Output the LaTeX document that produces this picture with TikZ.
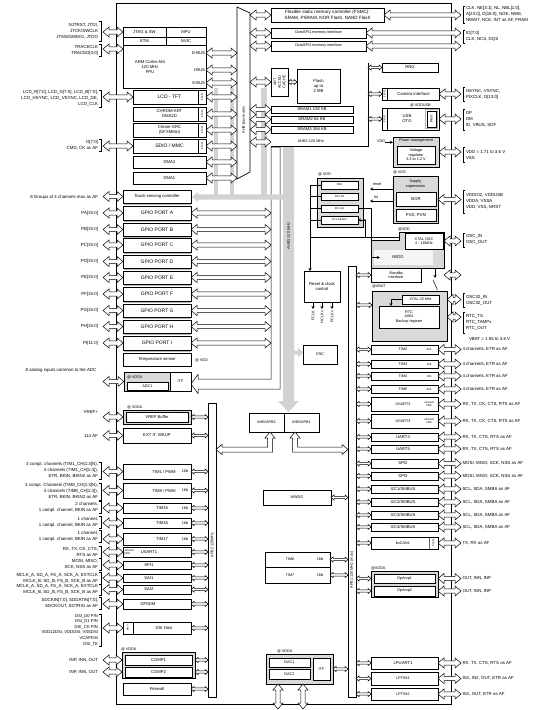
\documentclass[tikz,border=0pt]{standalone}
\usepackage{fontspec}
\setmainfont{Liberation Sans}
\usetikzlibrary{calc,arrows.meta}
\newcommand\fa{\fontsize{4.6}{5.6}\selectfont}
\newcommand\fb{\fontsize{3.8}{4.5}\selectfont}
\newcommand\fc{\fontsize{5}{6}\selectfont}
\newcommand\fd{\fontsize{4.2}{5}\selectfont}
\newcommand\fl{\fontsize{4.4}{6}\selectfont}
\newcommand\ft{\fontsize{2.8}{3.2}\selectfont}
\tikzset{
  blk/.style={draw,fill=white,line width=0.6pt,inner sep=0pt,outer sep=0pt,align=center,font=\fb},
  gblk/.style={blk,fill=gray!30},
  fat/.style={draw,fill=white,line width=0.5pt,line join=miter},
  gfat/.style={fill=gray!35},
  lbl/.style={inner sep=0pt,outer sep=0pt,font=\fa},
  brk/.style={line width=0.5pt},
  tip/.style={line width=0.5pt,-{Stealth[length=3pt,width=3pt]}},
  tiny/.style={lbl,font=\ft,rotate=90},
  shade/.style={gray!55,line width=1.4pt},
}
\newcommand\bx[7][]{\node[blk,minimum width={(#4-#2)*1pt},minimum height={(#5-#3)*1pt},#1] (#6) at ({(#2+#4)/2},{(#3+#5)/2}) {#7};}
\newcommand\fatpath[3]{(\x1,\y1) -- ({\x1+#1},{\y1+#2}) -- ({\x1+#1},{\y1+#3}) -- ({\x2-#1},{\y1+#3}) -- ({\x2-#1},{\y1+#2}) -- (\x2,\y1) -- ({\x2-#1},{\y1-#2}) -- ({\x2-#1},{\y1-#3}) -- ({\x1+#1},{\y1-#3}) -- ({\x1+#1},{\y1-#2}) -- cycle}
\newcommand\BA[3][fat]{\path[#1] let \p1=(#2),\p2=(#3) in \fatpath{6pt}{5pt}{2.2pt};}
\newcommand\SA[3][fat]{\path[#1] let \p1=(#2),\p2=(#3) in \fatpath{3pt}{2.6pt}{1.1pt};}
\newcommand\VA[3]{\path[fat] (#1,#2) -- ({#1+5},{#2+6}) -- ({#1+2.2},{#2+6}) -- ({#1+2.2},{#3-6}) -- ({#1+5},{#3-6}) -- (#1,#3) -- ({#1-5},{#3-6}) -- ({#1-2.2},{#3-6}) -- ({#1-2.2},{#2+6}) -- ({#1-5},{#2+6}) -- cycle;}
\newcommand\ltx[5]{\node[lbl,font=\fl,align=right,anchor=east] (#1) at (98,#2) {#5};\draw[brk] (99.3,#3) -- (101,#3) -- (101,#4) -- (99.3,#4);}
\newcommand\ltxn[3]{\node[lbl,font=\fl,anchor=east] (#1) at (98,#2) {#3};}
\newcommand\rtx[5]{\node[lbl,font=\fl,align=left,anchor=west] (#1) at (466,#2) {#5};\draw[brk] (465.2,#3) -- (463.5,#3) -- (463.5,#4) -- (465.2,#4);}
\newcommand\rtxn[2]{\node[lbl,font=\fl,anchor=west] (#1r) at (#1.east -| RT) {#2};}
\newcommand\rp[7]{\bx{371}{#2}{438}{#3}{#1}{}\node[lbl,font=#4] (#1a) at (403,{(#2+#3)/2}) {#5};\node[lbl,font=\ft,align=center] (#1b) at (429,{(#2+#3)/2}) {#6};\SA{#1.west -| apb1.east}{#1.west}\BA{#1.east}{#1.east -| RX}\rtxn{#1}{#7}}
\newcommand\lp[7]{\bx{123}{#2}{191}{#3}{#1}{}\node[lbl,font=#4] (#1a) at (#7,{(#2+#3)/2}) {#5};\node[lbl,font=\fb] (#1b) at (185,{(#2+#3)/2}) {#6};\BA{#1.west -| LX}{#1.west}\SA{#1.east}{#1.east -| apb2.west}}
\newcommand\gp[5]{\draw[shade] (123.5,{#3+1.2}) -- (190.5,{#3+1.2});\bx[font=\fc]{123}{#2}{191}{#3}{#1}{#4}\ltxn{#1t}{{(#2+#3)/2}}{#5}\BA{#1.west -| LX}{#1.west}\BA{#1.east}{#1.east -| A1L}}
\begin{document}
\begin{tikzpicture}[x=1pt,y=-1pt]
\useasboundingbox (0,0) rectangle (548,710);
\fill[white] (0,0) rectangle (548,710);
\coordinate (LX) at (103,0);
\coordinate (RX) at (461,0);
\coordinate (RT) at (462.5,0);
\coordinate (BML) at (237,0);
\coordinate (BMR) at (250,0);
\coordinate (A1L) at (271,0);
\coordinate (AH2) at (368,0);
\coordinate (XR) at (444,0);
\coordinate (CK) at (310,0);
\draw[line width=0.7pt] (116,3) rectangle (451,704);
% AHB1 band and gray paths
\path[fat] (271,147) -- (280,147) -- (280,389) -- (198,389) -- (198,393.5) -- (191,384) -- (198,374.5) -- (198,379) -- (271,379) -- cycle;
\fill[gray!35] (214,88) rectangle (218,195);
\fill[gray!35] (230,88) rectangle (234,195);
\fill[gray!35] (261,88) rectangle (267,195);
\fill[gray!35] (283,147) -- (294,147) -- (294,401) -- (299,401) -- (288.5,412) -- (278,401) -- (283,401) -- cycle;
\path[gfat] let \p1=(192,197),\p2=(289,197) in \fatpath{6pt}{5pt}{2.6pt};
\fill[gray!35] (294,350.5) -- (298,350.5) -- (298,347.5) -- (303,352.5) -- (298,357.5) -- (298,354.5) -- (294,354.5) -- cycle;
\node[lbl,font=\fb,rotate=90] (ahb1t) at (288.5,236) {AHB1 120 MHz};
% bus matrix
\draw[fill=white,line width=0.7pt] (237,7) -- (250,13) -- (250,172) -- (237,179) -- cycle;
\node[lbl,font=\fb,rotate=90] (bmt) at (243.5,120) {AHB bus-matrix};
% buses
\bx{348}{266}{356}{697}{apb1}{}
\node[lbl,font=\fb,rotate=90] (apb1t) at (352,570) {APB1 120 MHz (max)};
\bx{208}{403}{216}{697}{apb2}{}
\node[lbl,font=\fb,rotate=90] (apb2t) at (212,545) {APB2 120MHz};
% CPU
\bx{123}{27}{206}{88}{cpu}{}
\bx[font=\fd]{123}{27}{166}{37}{jtag}{JTAG \& SW}
\bx[font=\fd]{166}{27}{206}{37}{mpu}{MPU}
\bx[font=\fd]{123}{37}{166}{45}{etm}{ETM}
\bx[font=\fd]{166}{37}{206}{45}{nvic}{NVIC}
\node[lbl,font=\fd,align=center] (armt) at (150,67) {ARM Cortex-M4\\120 MHz\\FPU};
\node[lbl,font=\fd,anchor=east] (dbus) at (205,53) {D-BUS};
\node[lbl,font=\fd,anchor=east] (ibus) at (205,70) {I-BUS};
\node[lbl,font=\fd,anchor=east] (sbus) at (205,83) {S-BUS};
\coordinate (trc) at (123,49);
% DMA area
\bx[font=\fc]{133}{90}{206}{104}{lcd}{LCD - TFT}
\bx{198.5}{90}{206}{104}{lcdf}{}
\node[tiny] (lcdft) at (lcdf) {FIFO};
\bx[font=\fd]{133}{107}{206}{121}{chr}{CHROM-ART\\DMA2D}
\bx{198.5}{107}{206}{121}{chrf}{}
\node[tiny] (chrft) at (chrf) {FIFO};
\bx[font=\fd]{133}{123}{206}{137}{gfx}{Chrom-GRC\\(GFXMMU)}
\bx{198.5}{123}{206}{137}{gfxf}{}
\node[tiny] (gfxft) at (gfxf) {FIFO};
\bx[font=\fc]{133}{139}{206}{153}{sdio}{SDIO / MMC}
\bx{198.5}{139}{206}{153}{sdiof}{}
\node[tiny] (sdioft) at (sdiof) {FIFO};
\bx[font=\fd]{133}{156}{206}{168}{dma2}{DMA2}
\bx[font=\fd]{133}{172}{206}{184}{dma1}{DMA1}
\ltx{jtt}{31}{21}{41}{NJTRST, JTDI,\\JTCK/SWCLK\\JTMS/SWDIO, JTDO}
\ltx{trt}{50}{44}{56}{TRACECLK\\TRACED[3:0]}
\ltx{lcdt}{98.5}{90}{107}{LCD\_R[7:0], LCD\_G[7:0], LCD\_B[7:0],\\LCD\_HSYNC, LCD\_VSYNC, LCD\_DE,\\LCD\_CLK}
\ltx{sdt}{145}{139}{151}{D[7:0]\\CMD, CK as AF}
\BA{jtag.west -| LX}{jtag.west}
\BA{trc -| LX}{trc}
\BA{lcd.west -| LX}{lcd.west}
\BA{sdio.west -| LX}{sdio.west}
\BA{dbus.east -| cpu.east}{dbus.east -| BML}
\BA{ibus.east -| cpu.east}{ibus.east -| BML}
\BA{sbus.east -| cpu.east}{sbus.east -| BML}
\BA{lcd.east}{lcd.east -| BML}
\BA{chr.east}{chr.east -| BML}
\BA{gfx.east}{gfx.east -| BML}
\BA{sdio.east}{sdio.east -| BML}
\BA{dma2.east}{dma2.east -| BML}
\BA{dma1.east}{dma1.east -| BML}
% memories
\bx[font=\fa]{271}{8}{384}{22}{fsmc}{Flexible static memory controller (FSMC):\\SRAM, PSRAM, NOR Flash, NAND Flash}
\bx[font=\fb]{271}{28}{366}{38}{octo1}{OctoSPI1 memory interface}
\bx[font=\fb]{271}{41}{366}{51}{octo2}{OctoSPI2 memory interface}
\BA{fsmc.west -| BMR}{fsmc.west}
\BA{octo1.west -| BMR}{octo1.west}
\BA{octo2.west -| BMR}{octo2.west}
\BA{fsmc.east}{fsmc.east -| RX}
\BA{octo1.east}{octo1.east -| RX}
\BA{octo2.east}{octo2.east -| RX}
\rtx{fsmct}{14.5}{6}{23}{CLK, NE[3:1], NL, NBL[1:0],\\A[23:0], D[15:0], NOE, NWE,\\NWAIT, NCE, INT as AF, FRAM}
\rtx{octt}{36}{30}{43}{IO[7:0]\\CLK, NCS, DQS}
\bx{271}{68}{288}{96}{art}{}
\node[tiny,font=\fb,align=center] (artt) at (art) {ART\\ACCEL/\\CACHE};
\bx[font=\fd]{297}{69}{340}{103}{flash}{Flash\\up to\\2 MB}
\BA{art.west -| BMR}{art.west}
\SA{art.east}{art.east -| flash.west}
\bx[font=\fd]{271}{106}{353}{113}{sram1}{SRAM1 192 KB}
\bx[font=\fd]{271}{116}{353}{123}{sram2}{SRAM2 64 KB}
\bx[font=\fd]{271}{126}{353}{133}{sram3}{SRAM3 384 KB}
\BA{sram1.west -| BMR}{sram1.west}
\BA{sram2.west -| BMR}{sram2.west}
\BA{sram3.west -| BMR}{sram3.west}
\coordinate (ah2a) at (250,142);
\coordinate (ah2b) at (271,142);
\BA{ah2a}{ah2b}
\node[lbl,font=\fb] (ahb2t) at (311,141) {AHB2 120 MHz};
\draw[line width=0.5pt] (271,146) -- (368,146) -- (368,63);
% AHB2 peripherals
\bx[font=\fd]{382}{63}{438}{72}{rng}{RNG}
\bx[font=\fd]{382}{88}{439}{100}{cam}{\hspace*{6pt}Camera interface}
\bx{382}{88}{387.5}{100}{camf}{}
\node[tiny] (camft) at (camf) {FIFO};
\node[lbl,font=\fb,anchor=west] (vddusb) at (410,105.5) {@ VDDUSB};
\bx{382}{108}{439}{130}{usb}{}
\node[lbl,font=\fd,align=center] (usbt) at (407,119) {USB\\OTG};
\bx{382}{108}{387.5}{130}{usbf}{}
\node[tiny] (usbft) at (usbf) {FIFO};
\draw[gray!60,line width=1.2pt] (425.5,109.5) rectangle (437.5,128.5);
\bx{427}{111}{436}{127}{phy}{}
\node[tiny,font=\fb] (phyt) at (phy) {PHY};
\SA{rng.west -| AH2}{rng.west}
\SA{cam.west -| AH2}{cam.west}
\SA{usb.west -| AH2}{usb.west}
\BA{cam.east}{cam.east -| RX}
\BA{usb.east}{usb.east -| RX}
\rtx{camt}{94}{87}{101}{HSYNC, VSYNC,\\PIXCLK, D[13:0]}
\rtx{usbt2}{119}{109}{130}{DP\\DM\\ID, VBUS, SOF}
% power
\bx[gblk]{393}{137}{439}{167}{pwr}{}
\node[lbl,font=\fb] (pwrt) at (416,141) {Power management};
\bx[font=\fb]{397}{146}{435}{164}{vreg}{Voltage\\regulator\\3.3 to 1.2 V}
\node[lbl,font=\fb,anchor=west] (vddin) at (377,141) {VDD};
\draw[tip] (vddin.south east) -- (vddin.south east -| pwr.west);
\BA{pwr.east}{pwr.east -| RX}
\rtx{pwrt2}{154.5}{147}{162}{VDD = 1.71 to 3.6 V\\VSS}
\node[lbl,font=\fb,anchor=west] (vdd1) at (393,172.5) {@ VDD};
\bx[gblk]{393}{176}{438}{223}{sup}{}
\node[lbl,font=\fb,align=center] (supt) at (415.5,184) {Supply\\supervision};
\bx[font=\fd]{396}{192}{436}{206}{bor}{BOR}
\bx[font=\fd]{396}{209}{436}{221}{pvd}{PVD, PVM}
\coordinate (rsa) at (393,189);
\coordinate (inta) at (393,201);
\draw[tip] (rsa) -- ++(-23,0);
\draw[tip] (inta) -- ++(-23,0);
\node[lbl,font=\fb] (rst) at (377,184) {reset};
\node[lbl,font=\fb] (intt) at (376,197) {Int};
\BA{sup.east}{sup.east -| RX}
\rtx{supt2}{201.5}{190}{213}{VDDIO2, VDDUSB\\VDDA, VSSA\\VDD, VSS, NRST}
% clocks
\node[lbl,font=\fb,anchor=west] (vdd2) at (318,174.5) {@ VDD};
\bx[gblk]{317}{178}{363}{227}{clk}{}
\bx[font=\ft]{321}{181}{358}{189}{msi}{MSI}
\bx[font=\ft]{321}{193}{358}{200}{hsi}{RC HSI}
\bx[font=\ft]{321}{205}{358}{212}{lsi}{RC LSI}
\bx[font=\ft]{321}{216}{358}{224}{pll}{PLL 1\&2\&3}
\bx[font=\fd]{304}{271}{340}{302}{rcc}{Reset \& clock\\control}
\draw[line width=0.5pt] (msi.west) -- (msi.west -| CK) (hsi.west) -- (hsi.west -| CK) (lsi.west) -- (lsi.west -| CK) (pll.west) -- (pll.west -| CK);
\draw[tip] (msi.west -| CK) -- (rcc.north -| CK);
\coordinate (hl) at (310,237);
\coordinate (hr) at (399,237);
\draw[line width=0.5pt] (hl) -- (hr);
\coordinate (pd) at (365,220);
\fill (pd) circle (0.9);
\draw[tip] (pd) -- (pll.east);
\draw[line width=0.5pt] (pd) -- (pd |- hr);
\draw[tip] (313,302) -- ++(0,7);
\draw[tip] (322,302) -- ++(0,7);
\draw[tip] (332,302) -- ++(0,7);
\node[lbl,font=\fb,rotate=90,anchor=east] (fclk) at (313,311) {FCLK};
\node[lbl,font=\fb,rotate=90,anchor=east] (hclk) at (322,311) {HCLKx};
\node[lbl,font=\fb,rotate=90,anchor=east] (pclk) at (332,311) {PCLKx};
% xtal / iwdg
\node[lbl,font=\fb,anchor=west] (vdd4) at (398,229) {@VDD};
\path[draw,fill=gray!30,line width=0.6pt] (399,232) -- (444,232) -- (444,268) -- (371,268) -- (371,240) -- (399,240) -- cycle;
\bx[font=\fb]{405}{233}{443}{249}{xtal}{XTAL OSC\\4 - 16MHz}
\bx[fill=gray!8,draw=none]{374}{250}{433}{265}{iwdg}{}
\node[lbl,font=\fd] (iwdgt) at (398,257.5) {IWDG};
\coordinate (iw) at (371,257.5);
\draw[line width=0.5pt] (lsi.east) -| (iw);
\draw[tip] (iw) -- ++(9,0);
\BA{xtal.east -| XR}{xtal.east -| RX}
\rtx{oscT}{239.5}{233}{247}{OSC\_IN\\OSC\_OUT}
\bx[font=\fb]{371}{268}{421}{282}{stby}{Standby\\interface}
\draw[tip] (435,268) -- (435,278);
\draw[line width=0.5pt] (433,280) -- (437.5,290);
\BA{stby.east -| XR}{stby.east -| RX}
\SA{stby.west -| apb1.east}{stby.west}
% vbat
\node[lbl,font=\fb,anchor=west] (vbatl) at (372,286) {@VBAT};
\bx[gblk]{372}{291}{447}{341}{vbat}{}
\bx[font=\fb]{402}{295}{439}{304}{x32}{XTAL 32 kHz}
\bx[font=\fb]{379}{306}{439}{328}{rtc}{RTC\\AWU\\Backup register}
\draw[tip] (x32.west) -- ++(-11,0) -- ++(0,6.5);
\BA{x32.east -| vbat.east}{x32.east -| RX}
\BA{rtc.east -| vbat.east}{rtc.east -| RX}
\coordinate (vb) at (372,305);
\SA{vb -| apb1.east}{vb}
\rtx{o32t}{300}{293}{307}{OSC32\_IN\\OSC32\_OUT}
\rtx{rtct}{322}{312}{333}{RTC\_TS\\RTC\_TAMPx\\RTC\_OUT}
\node[lbl,font=\fl,anchor=west] (vbt) at (469,339) {VBAT = 1.55 to 3.6 V};
% APB1 peripherals
\rp{tim2}{345}{354}{\fb}{TIM2}{32b}{4 channels, ETR as AF}
\rp{tim3}{360}{368}{\fb}{TIM3}{16b}{4 channels, ETR as AF}
\rp{tim4}{372}{380}{\fb}{TIM4}{16b}{4 channels, ETR as AF}
\rp{tim5}{385}{393}{\fb}{TIM5}{32b}{4 channels, ETR as AF}
\rp{usart2}{397}{411}{\fb}{USART2}{smcard\\irDA}{RX, TX, CK, CTS, RTS as AF}
\rp{usart3}{414}{428}{\fb}{USART3}{smcard\\irDA}{RX, TX, CK, CTS, RTS as AF}
\rp{uart4}{433}{441}{\fd}{UART4}{}{RX, TX, CTS, RTS as AF}
\rp{uart5}{445}{453}{\fd}{UART5}{}{RX, TX, CTS, RTS as AF}
\rp{spi2}{459}{468}{\fd}{SPI2}{}{MOSI, MISO, SCK, NSS as AF}
\rp{spi3}{472}{480}{\fd}{SPI3}{}{MOSI, MISO, SCK, NSS as AF}
\rp{i2c1}{485}{493}{\fd}{I2C1/SMBUS}{}{SCL, SDA, SMBA as AF}
\rp{i2c2}{498}{506}{\fd}{I2C2/SMBUS}{}{SCL, SDA, SMBA as AF}
\rp{i2c3}{511}{519}{\fd}{I2C3/SMBUS}{}{SCL, SDA, SMBA as AF}
\rp{i2c4}{523}{531}{\fd}{I2C4/SMBUS}{}{SCL, SDA, SMBA as AF}
\rp{can}{537}{549}{\fb}{bxCAN1}{}{TX, RX as AF}
\bx{429}{537}{438}{549}{canf}{}
\draw[red!60!brown,line width=0.7pt] (429,537.5) -- (429,548.5);
\node[tiny] (canft) at (canf) {FIFO};
\node[lbl,font=\fb,anchor=west] (vdda3) at (371,568) {@VDDA};
\bx[gblk]{371}{571}{438}{597}{opg}{}
\bx[font=\fb]{374}{574}{435}{583}{op1}{OpAmp1}
\bx[font=\fb]{374}{586}{435}{596}{op2}{OpAmp2}
\SA{op1.west -| apb1.east}{op1.west -| opg.west}
\SA{op2.west -| apb1.east}{op2.west -| opg.west}
\BA{op1.east -| opg.east}{op1.east -| RX}
\BA{op2.east -| opg.east}{op2.east -| RX}
\node[lbl,font=\fl,anchor=west] (op1r) at (op1.east -| RT) {OUT, INN, INP};
\node[lbl,font=\fl,anchor=west] (op2r) at (op2.east -| RT) {OUT, INN, INP};
\rp{lpuart}{657}{669}{\fd}{LPUART1}{}{RX, TX, CTS, RTS as AF}
\rp{lptim1}{672}{685}{\fb}{LPTIM1}{}{IN1, IN2, OUT, ETR as AF}
\rp{lptim2}{688}{700}{\fb}{LPTIM2}{}{IN1, OUT, ETR as AF}
% middle
\bx[font=\fb]{303}{345}{337}{364}{crc}{CRC}
\bx[font=\fb]{249}{413}{284}{432}{br2}{AHB/APB2}
\bx[font=\fb]{284}{413}{319}{432}{br1}{AHB/APB1}
\path[fat] (270,432) -- (275,438) -- (272.5,438) -- (272.5,452) -- (222,452) -- (222,454.5) -- (216,449.5) -- (222,444.5) -- (222,447) -- (267.5,447) -- (267.5,438) -- (265,438) -- cycle;
\path[fat] (295,432) -- (300,438) -- (297.5,438) -- (297.5,447) -- (342,447) -- (342,444.5) -- (348,449.5) -- (342,454.5) -- (342,452) -- (292.5,452) -- (292.5,438) -- (290,438) -- cycle;
\bx[font=\fb]{263}{490}{331}{505}{wwdg}{WWDG}
\SA{wwdg.east}{wwdg.east -| apb1.west}
\bx{265}{552}{330}{567}{tim6}{}
\node[lbl,font=\fb] (tim6a) at (290,559.5) {TIM6};
\node[lbl,font=\fb] (tim6b) at (320,559.5) {16b};
\bx{265}{567}{330}{583}{tim7}{}
\node[lbl,font=\fb] (tim7a) at (290,575) {TIM7};
\node[lbl,font=\fb] (tim7b) at (320,575) {16b};
\SA{tim6.east}{tim6.east -| apb1.west}
\SA{tim7.east}{tim7.east -| apb1.west}
\node[lbl,font=\fb,anchor=west] (vdda5) at (277,651) {@ VDDA};
\bx[gblk]{266}{654}{333}{684}{dacg}{}
\bx[font=\fb]{269}{658}{310}{667}{dac1}{DAC1}
\bx[font=\fb]{269}{669}{310}{679}{dac2}{DAC2}
\bx[font=\fb]{313}{658}{330}{680}{itf2}{ITF}
\SA{itf2.east -| dacg.east}{itf2.east -| apb1.west}
\VA{278}{684}{709}
\VA{303}{684}{709}
% left lower
\draw[shade] (123.5,204.2) -- (190.5,204.2);
\bx[font=\fd]{123}{190}{191}{203}{tsc}{Touch sensing controller}
\ltxn{tsct}{197}{8 Groups of 4 channels max as AF}
\BA{tsc.west -| LX}{tsc.west}
\gp{gpa}{206}{220}{GPIO PORT A}{PA[15:0]}
\gp{gpb}{223}{236}{GPIO PORT B}{PB[15:0]}
\gp{gpc}{238}{252}{GPIO PORT C}{PC[15:0]}
\gp{gpd}{255}{268}{GPIO PORT D}{PD[15:0]}
\gp{gpe}{271}{284}{GPIO PORT E}{PE[15:0]}
\gp{gpf}{287}{301}{GPIO PORT F}{PF[15:0]}
\gp{gpg}{304}{317}{GPIO PORT G}{PG[15:0]}
\gp{gph}{320}{333}{GPIO PORT H}{PH[15:0]}
\gp{gpi}{336}{350}{GPIO PORT I}{PI[11:0]}
\bx[font=\fd]{123}{353}{191}{366}{temp}{Temperature sensor}
\node[lbl,font=\fb,anchor=west] (vdd3) at (195,360) {@ VDD};
\bx[gblk]{124}{372}{170}{391}{adcg}{}
\node[lbl,font=\fb,anchor=west] (vdda1) at (127,377) {@ VDDA};
\bx[font=\fb]{127}{382}{168}{390}{adc1}{ADC1}
\bx[font=\fb]{170}{372}{191}{391}{itf1}{ITF}
\node[lbl,font=\fl] (adct) at (61,370) {8 analog inputs common to the ADC};
\BA{adcg.west -| LX}{adcg.west}
\node[lbl,font=\fb,anchor=west] (vdda2) at (127,407.5) {@ VDDA};
\bx[fill=gray!30]{123}{410}{191}{424}{vrefo}{}
\bx[font=\fd]{126}{412}{188}{422}{vref}{VREF Buffer}
\ltxn{vrefp}{412}{VREF+}
\BA{vrefo.west -| LX}{vrefo.west}
\SA{vrefo.east}{vrefo.east -| apb2.west}
\bx[font=\fd]{123}{428}{191}{443}{exti}{EXT IT. WKUP}
\ltxn{aft}{435.5}{114 AF}
\BA{exti.west -| LX}{exti.west}
\SA{exti.east}{exti.east -| apb2.west}
\lp{tim1}{464}{479}{\fd}{TIM1 / PWM}{16b}{164}
\lp{tim8}{483}{498}{\fd}{TIM8 / PWM}{16b}{164}
\lp{tim15}{503}{513}{\fd}{TIM15}{16b}{162}
\lp{tim16}{518}{528}{\fd}{TIM16}{16b}{162}
\lp{tim17}{533}{545}{\fd}{TIM17}{16b}{162}
\lp{usart1}{547}{557}{\fd}{USART1}{}{149}
\node[lbl,font=\ft,align=left,anchor=west] (u1sm) at (124.5,552) {smcard\\irDA};
\lp{spi1}{561}{569}{\fd}{SPI1}{}{149}
\lp{sai1}{574}{582}{\fd}{SAI1}{}{149}
\lp{sai2}{585}{594}{\fd}{SAI2}{}{149}
\lp{dfsdm}{599}{609}{\fd}{DFSDM}{}{148}
\lp{dsi}{622}{634}{\fd}{DSI Host}{}{164}
\bx{123}{622}{133}{634}{dsip}{}
\node[tiny] (dsipt) at (dsip) {PHY};
\ltx{t1t}{470.5}{462}{479}{3 compl. channels (TIM1\_CH[1:3]N),\\4 channels (TIM1\_CH[1:4]),\\ETR, BKIN, BKIN2 as AF}
\ltx{t8t}{491.5}{483}{500}{3 compl. Channels (TIM8\_CH[1:3]N),\\4 channels (TIM8\_CH[1:4]),\\ETR, BKIN, BKIN2 as AF}
\ltx{t15t}{507}{501}{513}{2 channels,\\1 compl. channel, BKIN as AF}
\ltx{t16t}{522}{516}{528}{1 channel,\\1 compl. channel, BKIN as AF}
\ltx{t17t}{536}{530}{542}{1 channel,\\1 compl. channel, BKIN as AF}
\ltx{u1t}{552}{546}{558}{RX, TX, CK, CTS,\\RTS as AF}
\ltx{s1t}{564}{558.5}{570}{MOSI, MISO,\\SCK, NSS as AF}
\ltx{sa1t}{578}{572}{584}{MCLK\_A, SD\_A, FS\_A, SCK\_A, EXTCLK\\MCLK\_B, SD\_B, FS\_B, SCK\_B as AF}
\ltx{sa2t}{589.5}{584.5}{595}{MCLK\_A, SD\_A, FS\_A, SCK\_A, EXTCLK\\MCLK\_B, SD\_B, FS\_B, SCK\_B as AF}
\ltx{dft}{603}{597}{609}{SDCKIN[7:0], SDDATIN[7:0],\\SDCKOUT, SDTRIG as AF}
\node[lbl,font=\fontsize{4.2}{5.6}\selectfont,align=right,anchor=east] (dsit) at (98,630) {DSI\_D0 P/N\\DSI\_D1 P/N\\DSI\_CK P/N\\VDD12DSI, VDDDSI, VSSDSI\\VCAPDSI\\DSI\_TE};
\draw[brk] (99.3,614) -- (101,614) -- (101,646) -- (99.3,646);
\node[lbl,font=\fb,anchor=west] (vdda4) at (121,649) {@ VDDA};
\bx[gblk]{122}{652}{195}{678}{cmpg}{}
\bx[font=\fd]{125}{655}{192}{665}{cmp1}{COMP1}
\bx[font=\fd]{125}{667}{192}{677}{cmp2}{COMP2}
\ltxn{c1t}{660}{INP, INN, OUT}
\ltxn{c2t}{672}{INP, INN, OUT}
\BA{cmp1.west -| LX}{cmp1.west -| cmpg.west}
\BA{cmp2.west -| LX}{cmp2.west -| cmpg.west}
\SA{cmp1.east -| cmpg.east}{cmp1.east -| apb2.west}
\SA{cmp2.east -| cmpg.east}{cmp2.east -| apb2.west}
\bx[font=\fd]{123}{683}{191}{695}{fw}{Firewall}
\SA{fw.east}{fw.east -| apb2.west}
\end{tikzpicture}
\end{document}
